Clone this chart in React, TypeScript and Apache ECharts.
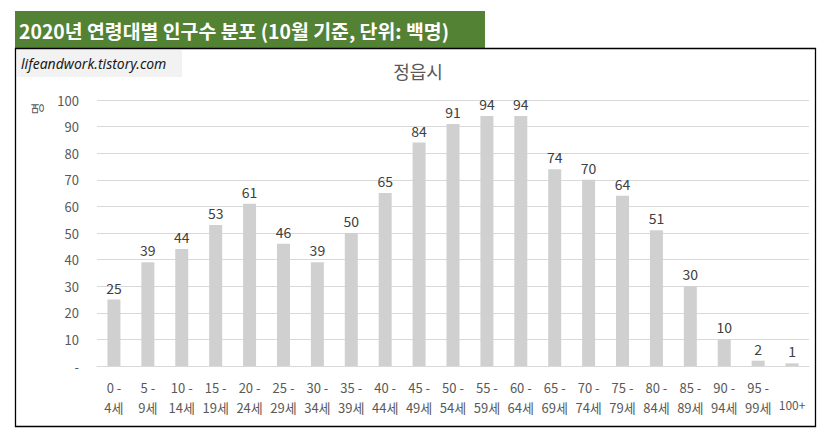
import React, { useEffect, useRef } from "react";
import * as echarts from "echarts";

const categories = [
  "0 -\n4세", "5 -\n9세", "10 -\n14세", "15 -\n19세", "20 -\n24세", "25 -\n29세",
  "30 -\n34세", "35 -\n39세", "40 -\n44세", "45 -\n49세", "50 -\n54세", "55 -\n59세",
  "60 -\n64세", "65 -\n69세", "70 -\n74세", "75 -\n79세", "80 -\n84세", "85 -\n89세",
  "90 -\n94세", "95 -\n99세", "100+",
];
const population = [25, 39, 44, 53, 61, 46, 39, 50, 65, 84, 91, 94, 94, 74, 70, 64, 51, 30, 10, 2, 1];
const pageTitle = "2020년 연령대별 인구수 분포 (10월 기준, 단위: 백명)";
const chartTitle = "정읍시";
const watermark = "lifeandwork.tistory.com";
const unitName = "명";

const FONT = '"Noto Sans CJK KR", "Noto Sans", sans-serif';

export default function App() {
  const ref = useRef<HTMLDivElement>(null);
  useEffect(() => {
    if (!ref.current) return;
    const chart = echarts.init(ref.current, undefined, { renderer: "svg" });
    chart.setOption({
      animation: false,
      backgroundColor: "#ffffff",
      textStyle: { fontFamily: FONT },
      title: {
        text: chartTitle,
        left: 413,
        top: 57,
        textAlign: "center",
        textStyle: { fontSize: 18, fontWeight: "normal", color: "#595959", fontFamily: FONT },
      },
      grid: { left: 97, right: 17, top: 100, bottom: 70, containLabel: false },
      xAxis: {
        type: "category",
        data: categories,
        axisLine: { show: true, lineStyle: { color: "#d9d9d9" } },
        axisTick: { show: false },
        axisLabel: {
          interval: 0,
          color: "#595959",
          fontSize: 13,
          lineHeight: 20,
          margin: 11,
          fontFamily: FONT,
          formatter: (v: string) => (v.indexOf("\n") < 0 ? "{s|" + v + "}" : v),
          rich: { s: { fontSize: 12, lineHeight: 54, color: "#595959", fontFamily: FONT } },
        },
      },
      yAxis: {
        type: "value",
        min: 0,
        max: 100,
        interval: 10,
        axisLine: { show: false },
        axisTick: { show: false },
        splitLine: { lineStyle: { color: "#d9d9d9" } },
        axisLabel: {
          color: "#595959",
          fontSize: 13,
          margin: 18,
          fontFamily: FONT,
          formatter: (v: number) => (v === 0 ? "-" : String(v)),
        },
      },
      series: [
        {
          type: "bar",
          data: population,
          barWidth: 13,
          itemStyle: { color: "#d0d0d0" },
          label: {
            show: true,
            position: "top",
            distance: 5,
            color: "#404040",
            fontSize: 14,
            fontFamily: FONT,
          },
        },
      ],
      graphic: [
        { type: "rect", shape: { x: 15, y: 11, width: 470, height: 37 }, style: { fill: "#548235" } },
        {
          type: "text",
          x: 19,
          y: 30,
          style: {
            text: pageTitle,
            fill: "#ffffff",
            fontSize: 19.4,
            fontWeight: "bold",
            fontFamily: FONT,
            verticalAlign: "middle",
          },
        },
        {
          type: "rect",
          shape: { x: 15.5, y: 48.5, width: 800, height: 378 },
          style: { fill: "none", stroke: "#000000", lineWidth: 1.3 },
        },
        { type: "rect", shape: { x: 17, y: 50, width: 165, height: 27 }, style: { fill: "#f2f2f2" } },
        {
          type: "text",
          x: 21,
          y: 63.5,
          style: {
            text: watermark,
            fill: "#1a1a1a",
            fontSize: 14,
            fontStyle: "italic",
            fontFamily: '"Noto Sans", sans-serif',
            verticalAlign: "middle",
          },
        },
        {
          type: "text",
          x: 36,
          y: 108.5,
          rotation: Math.PI / 2,
          style: {
            text: unitName,
            fill: "#595959",
            fontSize: 13,
            fontFamily: FONT,
            align: "center",
            verticalAlign: "middle",
          },
        },
      ],
    });
    return () => chart.dispose();
  }, []);
  return (
    <div
      ref={ref}
      style={{ position: "fixed", left: 0, top: 0, width: 826, height: 436 }}
    />
  );
}
